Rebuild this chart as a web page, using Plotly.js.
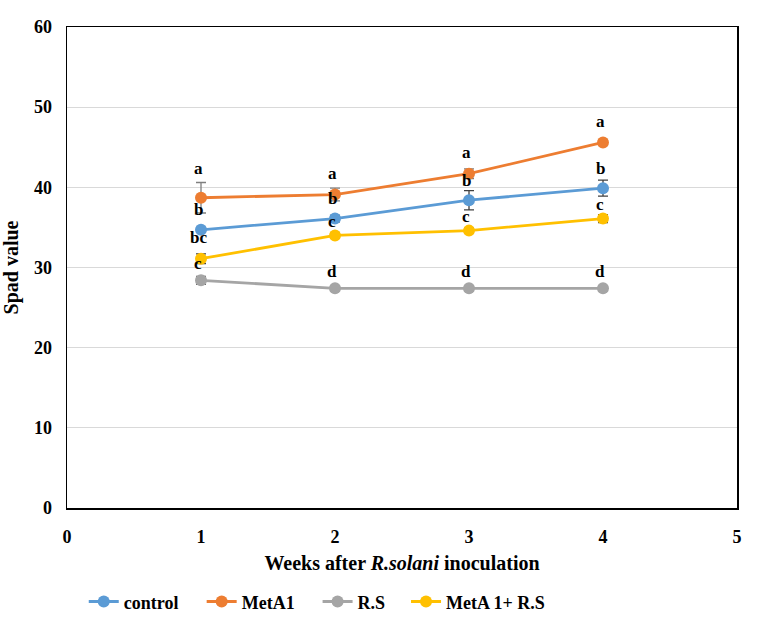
<!DOCTYPE html>
<html>
<head>
<meta charset="utf-8">
<script src="https://cdn.plot.ly/plotly-3.0.1.min.js"></script>
<style>html,body{margin:0;padding:0;background:#fff;}#chart{width:761px;height:636px;}</style>
</head>
<body>
<div id="chart"></div>
<script>
const weeks = [1, 2, 3, 4];
const seriesNames = ["control", "MetA1", "R.S", "MetA 1+ R.S"];
const controlVals = [34.7, 36.1, 38.4, 39.9];
const metA1Vals = [38.7, 39.1, 41.7, 45.6];
const rsVals = [28.4, 27.4, 27.4, 27.4];
const metARsVals = [31.1, 34.0, 34.6, 36.1];
const controlErr = [0.3, 0.4, 1.2, 1.0];
const metA1Err = [1.9, 0.8, 0.6, 0.3];
const rsErr = [0.5, 0.3, 0.3, 0.3];
const metARsErr = [0.6, 0.3, 0.3, 0.5];
const controlLetters = ["b", "b", "b", "b"];
const metA1Letters = ["a", "a", "a", "a"];
const rsLetters = ["c", "d", "d", "d"];
const metARsLetters = ["bc", "c", "c", "c"];
const xTicks = [0, 1, 2, 3, 4, 5];
const yTicks = [0, 10, 20, 30, 40, 50, 60];

const colors = ["#5B9BD5", "#ED7D31", "#A5A5A5", "#FFC000"];
const errColors = ["#404040", "#7f7f7f", "#606060", "#404040"];
const vals = [controlVals, metA1Vals, rsVals, metARsVals];
const errs = [controlErr, metA1Err, rsErr, metARsErr];
const letters = [controlLetters, metA1Letters, rsLetters, metARsLetters];
const font = "Liberation Serif, Times New Roman, serif";
const legendIds = ["legend", "legend2", "legend3", "legend4"];
const legendX = [0.025, 0.201, 0.374, 0.506];
const labelShift = [20, 21, 17, 14];

const traces = vals.map((v, i) => ({
  x: weeks, y: v, name: "<b>" + seriesNames[i] + "</b>", type: "scatter", mode: "lines+markers",
  line: {color: colors[i], width: 2.8},
  marker: {color: colors[i], size: 12},
  legend: legendIds[i],
  error_y: {type: "data", array: errs[i], visible: true, color: errColors[i], thickness: 1.3, width: 5}
}));

const annotations = [];
letters.forEach((arr, i) => {
  arr.forEach((t, j) => {
    let ys = labelShift[i];
    if (j === 0 && i === 1) ys = 29;
    if (j === 0 && i === 3) ys = 21;
    annotations.push({
      x: weeks[j], y: vals[i][j], xref: "x", yref: "y",
      text: "<b>" + t + "</b>", showarrow: false, yshift: ys,
      xshift: -3,
      font: {family: font, size: 17, color: "#000"}
    });
  });
});

const legendBase = {
  orientation: "h", y: -0.195, yanchor: "middle", xanchor: "left",
  font: {family: font, size: 18, color: "#000"}, bgcolor: "rgba(0,0,0,0)"
};

const layout = {
  width: 761, height: 636,
  margin: {l: 67, r: 24, t: 27, b: 128},
  paper_bgcolor: "#fff", plot_bgcolor: "#fff",
  font: {family: font, color: "#000"},
  xaxis: {
    range: [0, 5], tickvals: xTicks, ticktext: xTicks.map(t => "<b>" + t + "</b>"),
    showgrid: false, zeroline: false, showline: true, linecolor: "#000", linewidth: 1.5, mirror: true,
    ticks: "outside", ticklen: 12, tickcolor: "rgba(0,0,0,0)", tickfont: {family: font, size: 18, color: "#000"},
    title: {text: "<b>Weeks after <i>R.solani</i> inoculation</b>", font: {family: font, size: 20, color: "#000"}, standoff: 10}
  },
  yaxis: {
    range: [0, 60], tickvals: yTicks, ticktext: yTicks.map(t => "<b>" + t + "</b>"),
    showgrid: true, gridcolor: "#d9d9d9", gridwidth: 1.2, zeroline: false,
    showline: true, linecolor: "#000", linewidth: 1.5, mirror: true,
    ticks: "outside", ticklen: 10, tickcolor: "rgba(0,0,0,0)", tickfont: {family: font, size: 18, color: "#000"},
    title: {text: "<b>Spad value</b>", font: {family: font, size: 20, color: "#000"}, standoff: 10}
  },
  legend: Object.assign({x: legendX[0]}, legendBase),
  legend2: Object.assign({x: legendX[1]}, legendBase),
  legend3: Object.assign({x: legendX[2]}, legendBase),
  legend4: Object.assign({x: legendX[3]}, legendBase),
  annotations: annotations,
  showlegend: true
};

Plotly.newPlot("chart", traces, layout, {displayModeBar: false, staticPlot: true});
</script>
</body>
</html>
